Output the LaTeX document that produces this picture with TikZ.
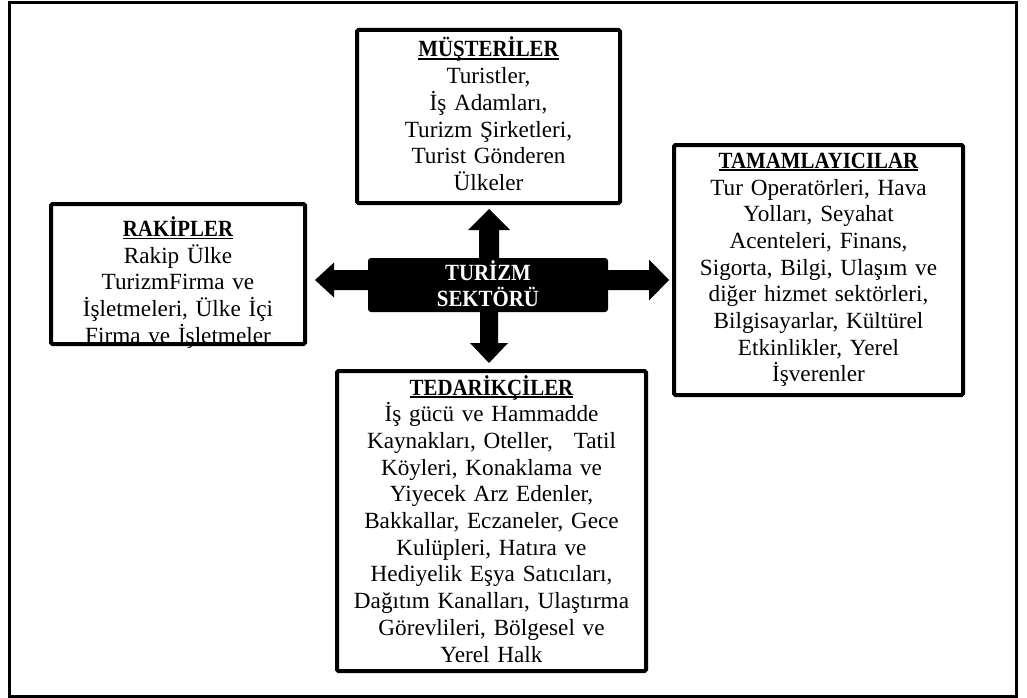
\documentclass[tikz,border=0pt]{standalone}
\usepackage{fontspec}
\setmainfont{Liberation Serif}
\usetikzlibrary{calc}
% bold heading, slightly condensed, with a rule under it
\newcommand\hdr[1]{\setbox0\hbox{\scalebox{0.9}[1]{\bfseries #1}}\rlap{\rule[-2.6pt]{\wd0}{1.6pt}}\box0}
\newcommand\boldtxt[1]{\scalebox{0.9}[1]{\bfseries #1}}
\begin{document}
\begin{tikzpicture}[x=1pt,y=-1pt,
  panel/.style={draw=black, line width=4pt, rounded corners=1.5pt, fill=white, inner sep=0pt},
  body/.style={font=\fontsize{23.2}{26.7}\selectfont, align=center, text width=#1, inner sep=0pt, anchor=base},
  hubbox/.style={fill=black, rounded corners=3pt, inner sep=0pt, minimum width=240pt, minimum height=54pt},
  blockarrow/.style={fill=black}
]
\useasboundingbox (0,0) rectangle (1027,698);
\draw[line width=3pt] (9.5,2.5) rectangle (1016,696);

% surrounding boxes
\node[panel, minimum width=263pt, minimum height=173pt] (mus) at (488.5,116.5) {};
\node[body=262pt] (musT) at (488.5,57) {\hdr{MÜŞTERİLER}\\Turistler,\\İş Adamları,\\Turizm Şirketleri,\\Turist Gönderen\\Ülkeler};

\node[panel, minimum width=289pt, minimum height=250pt] (tam) at (818.5,270) {};
\node[body=288pt] (tamT) at (818.5,168.3) {\hdr{TAMAMLAYICILAR}\\Tur Operatörleri, Hava\\Yolları, Seyahat\\Acenteleri, Finans,\\Sigorta, Bilgi, Ulaşım ve\\diğer hizmet sektörleri,\\Bilgisayarlar, Kültürel\\Etkinlikler, Yerel\\İşverenler};

\node[panel, minimum width=254pt, minimum height=140pt] (rak) at (178,274) {};
\node[body=252pt] (rakT) at (178,236.5) {\hdr{RAKİPLER}\\Rakip Ülke\\TurizmFirma ve\\İşletmeleri, Ülke İçi\\Firma ve İşletmeler};

\node[panel, minimum width=309pt, minimum height=300pt] (ted) at (491.5,521) {};
\node[body=306pt] (tedT) at (491.5,395) {\hdr{TEDARİKÇİLER}\\İş gücü ve Hammadde\\Kaynakları, Oteller,\hspace{0.9em}Tatil\\Köyleri, Konaklama ve\\Yiyecek Arz Edenler,\\Bakkallar, Eczaneler, Gece\\Kulüpleri, Hatıra ve\\Hediyelik Eşya Satıcıları,\\Dağıtım Kanalları, Ulaştırma\\Görevlileri, Bölgesel ve\\Yerel Halk};

% block arrows from the hub to each box
\coordinate (c) at (489,280);
\coordinate (tU) at ($(c |- mus.south)+(0,4)$);
\coordinate (tD) at ($(c |- ted.north)+(0,-6)$);
\coordinate (tL) at ($(c -| rak.east)+(8,0)$);
\coordinate (tR) at ($(c -| tam.west)+(-3,0)$);

\fill[blockarrow] ($(c)+(-10,0)$) -- ($(tU)+(-10,21)$) -- ($(tU)+(-21,21)$) -- (tU)
  -- ($(tU)+(21,21)$) -- ($(tU)+(10,21)$) -- ($(c)+(10,0)$) -- cycle;
\fill[blockarrow] ($(c)+(-9,0)$) -- ($(tD)+(-9,-20)$) -- ($(tD)+(-19,-20)$) -- (tD)
  -- ($(tD)+(19,-20)$) -- ($(tD)+(9,-20)$) -- ($(c)+(9,0)$) -- cycle;
\fill[blockarrow] ($(c)+(0,-10)$) -- ($(tL)+(19,-10)$) -- ($(tL)+(19,-17.5)$) -- (tL)
  -- ($(tL)+(19,17.5)$) -- ($(tL)+(19,10)$) -- ($(c)+(0,10)$) -- cycle;
\fill[blockarrow] ($(c)+(0,-10)$) -- ($(tR)+(-20,-10)$) -- ($(tR)+(-20,-20.5)$) -- (tR)
  -- ($(tR)+(-20,20.5)$) -- ($(tR)+(-20,10)$) -- ($(c)+(0,10)$) -- cycle;

% central hub
\node[hubbox] (hub) at (488,285) {};
\node[body=230pt, text=white] (hubT) at (488,280) {\boldtxt{TURİZM}\\\boldtxt{SEKTÖRÜ}};
\end{tikzpicture}
\end{document}
